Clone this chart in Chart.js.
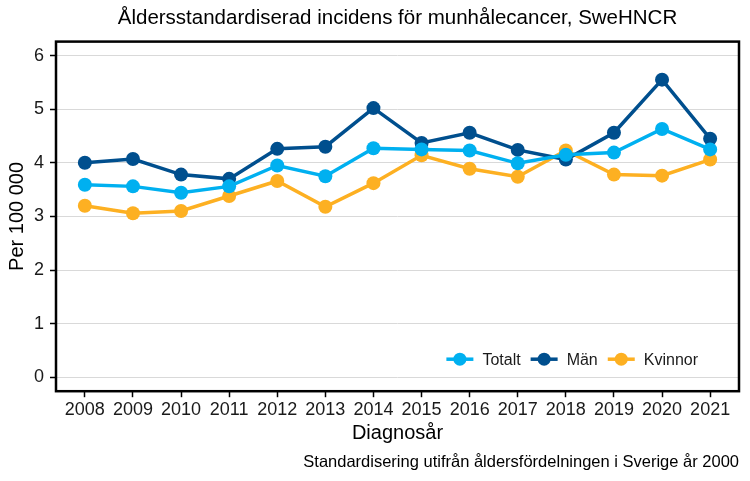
<!DOCTYPE html>
<html>
<head>
<meta charset="utf-8">
<script src="https://cdn.jsdelivr.net/npm/chart.js@4.4.1/dist/chart.umd.min.js"></script>
<style>
  html, body { margin: 0; padding: 0; background: #fff; }
  #wrap { width: 750px; height: 481px; }
</style>
</head>
<body>
<div id="wrap"><canvas id="chart" width="750" height="481"></canvas></div>
<script>
const years = [2008, 2009, 2010, 2011, 2012, 2013, 2014, 2015, 2016, 2017, 2018, 2019, 2020, 2021];
const totalt = [3.59, 3.56, 3.44, 3.56, 3.95, 3.75, 4.27, 4.25, 4.23, 3.99, 4.15, 4.19, 4.63, 4.25];
const man = [4.00, 4.07, 3.78, 3.70, 4.26, 4.30, 5.02, 4.37, 4.56, 4.24, 4.06, 4.56, 5.55, 4.45];
const kvinnor = [3.20, 3.06, 3.10, 3.38, 3.66, 3.18, 3.62, 4.14, 3.89, 3.74, 4.23, 3.78, 3.76, 4.06];
const yTicks = [0, 1, 2, 3, 4, 5, 6];

const FONT = "'Liberation Sans', Arial, sans-serif";

function toPoints(values) {
    return years.map((yr, i) => ({ x: yr, y: values[i] }));
}

function series(label, values, color) {
    return {
        label: label,
        data: toPoints(values),
        borderColor: color,
        backgroundColor: color,
        borderWidth: 3.5,
        pointRadius: 7,
        pointHoverRadius: 7,
        pointBorderWidth: 0,
        tension: 0
    };
}

// ram runt ritytan
const frame = {
    id: "frame",
    afterDraw(chart) {
        const a = chart.chartArea;
        const ctx = chart.ctx;
        ctx.save();
        ctx.strokeStyle = "#000";
        ctx.lineWidth = 2.5;
        ctx.strokeRect(a.left, a.top, a.right - a.left, a.bottom - a.top);
        ctx.restore();
    }
};

// legend inne i ritytan, nere till höger
const insideLegend = {
    id: "insideLegend",
    afterDatasetsDraw(chart) {
        const ctx = chart.ctx;
        const a = chart.chartArea;
        ctx.save();
        ctx.font = "16px " + FONT;
        ctx.textBaseline = "middle";
        const items = chart.data.datasets;
        const symW = 27, gap = 9, itemGap = 10;
        let total = 0;
        const widths = items.map(d => ctx.measureText(d.label).width);
        widths.forEach(w => total += symW + gap + w);
        total += itemGap * (items.length - 1);
        let x = a.right - 41 - total;
        const y = a.bottom - 32;
        items.forEach((d, i) => {
            ctx.strokeStyle = d.borderColor;
            ctx.fillStyle = d.borderColor;
            ctx.lineWidth = 3.5;
            ctx.beginPath();
            ctx.moveTo(x, y);
            ctx.lineTo(x + symW, y);
            ctx.stroke();
            ctx.beginPath();
            ctx.arc(x + symW / 2, y, 6.5, 0, Math.PI * 2);
            ctx.fill();
            ctx.fillStyle = "#1a1a1a";
            ctx.fillText(d.label, x + symW + gap, y + 1);
            x += symW + gap + widths[i] + itemGap;
        });
        ctx.restore();
    }
};

new Chart(document.getElementById("chart"), {
    type: "line",
    data: {
        datasets: [
            series("Totalt", totalt, "#00b0f0"),
            series("Män", man, "#004f8e"),
            series("Kvinnor", kvinnor, "#fdb022")
        ]
    },
    options: {
        responsive: false,
        animation: false,
        layout: { padding: { left: 0, right: 11, top: 0, bottom: 9 } },
        scales: {
            x: {
                type: "linear",
                min: 2007.4,
                max: 2021.6,
                afterBuildTicks: s => { s.ticks = years.map(v => ({ value: v })); },
                afterFit: s => { s.height = 54; },
                ticks: {
                    color: "#1a1a1a",
                    font: { family: FONT, size: 18 },
                    padding: 2,
                    maxRotation: 0,
                    autoSkip: false,
                    callback: v => String(v)
                },
                grid: { drawOnChartArea: false, tickColor: "#000", tickLength: 6, tickWidth: 1.5 },
                border: { display: false },
                title: {
                    display: true,
                    text: "Diagnosår",
                    color: "#000",
                    font: { family: FONT, size: 20 },
                    padding: { top: 0, bottom: 0 }
                }
            },
            y: {
                min: -0.26,
                max: 6.26,
                afterBuildTicks: s => { s.ticks = yTicks.map(v => ({ value: v })); },
                afterFit: s => { s.width = 56; },
                ticks: {
                    color: "#1a1a1a",
                    font: { family: FONT, size: 18 },
                    padding: 6
                },
                grid: { color: "#d9d9d9", lineWidth: 1, tickColor: "#000", tickLength: 6, tickWidth: 1.5 },
                border: { display: false },
                title: {
                    display: true,
                    text: "Per 100 000",
                    color: "#000",
                    font: { family: FONT, size: 20 },
                    padding: { top: 5, bottom: 0 }
                }
            }
        },
        plugins: {
            legend: { display: false },
            tooltip: { enabled: false },
            title: {
                display: true,
                fullSize: false,
                text: "Åldersstandardiserad incidens för munhålecancer, SweHNCR",
                color: "#000",
                font: { family: FONT, size: 20.5, weight: "normal" },
                padding: { top: 6, bottom: 11 }
            },
            subtitle: {
                display: true,
                position: "bottom",
                align: "end",
                text: "Standardisering utifrån åldersfördelningen i Sverige år 2000",
                color: "#000",
                font: { family: FONT, size: 16.5 },
                padding: { top: 7, bottom: 0 }
            }
        }
    },
    plugins: [frame, insideLegend]
});
</script>
</body>
</html>
